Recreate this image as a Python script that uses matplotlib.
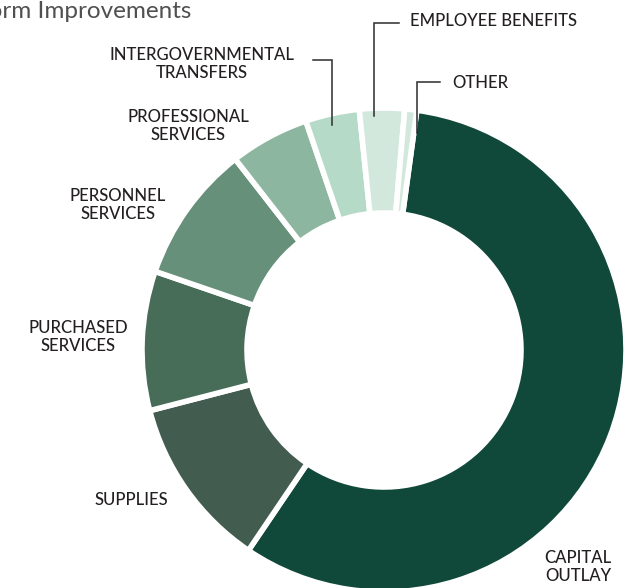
import matplotlib
matplotlib.use("Agg")
import matplotlib.pyplot as plt

# -------------------------------
# Données
# -------------------------------

categories = ["CAPITAL\nOUTLAY", "SUPPLIES", "PURCHASED\nSERVICES", "PERSONNEL\nSERVICES",
              "PROFESSIONAL\nSERVICES", "INTERGOVERNMENTAL\nTRANSFERS",
              "EMPLOYEE BENEFITS", "OTHER"]
shares = [57.3, 11.5, 9.3, 9.2, 5.3, 3.6, 3.0, 0.8]
colors = ["#10483A", "#435C50", "#476D59", "#66907A",
          "#8DB6A0", "#B5DBC8", "#D2E8DD", "#D2E8DD"]
title = "Platform Improvements"

W, H = 644, 588
CX, CY, R = 384, 350, 242   # centre et rayon du donut (pixels)


def px(x, y):
    """Pixels image -> coordonnées du repère du donut."""
    return (x - CX) / R, (CY - y) / R


# position des étiquettes (pixels) : x, y, alignement
label_pos = [
    (578, 567, "center"),
    (131, 500, "center"),
    (78, 337, "center"),
    (118, 205, "center"),
    (188, 126, "center"),
    (202, 64, "center"),
    (410, 21, "left"),
    (452, 83, "left"),
]
# traits de rappel : (x début, y), x du coude, y bas
leaders = {
    5: (313, 60, 332, 125),
    6: (399, 23, 374, 116),
    7: (440, 82, 417, 133),
}

plt.rcParams["font.family"] = ["Lato", "DejaVu Sans"]

fig = plt.figure(figsize=(W / 100, H / 100), dpi=100)
ax = fig.add_axes([(CX - R) / W, (H - CY - R) / H, 2 * R / W, 2 * R / H])

ax.pie(shares, colors=colors, startangle=82.2, counterclock=False, radius=1,
       wedgeprops=dict(width=1 - 137 / R, edgecolor="white", linewidth=4))

# pie() impose ses propres limites, on les remet après
ax.set_xlim(-1, 1)
ax.set_ylim(-1, 1)
ax.set_aspect("equal")
ax.axis("off")

for lab, (x, y, ha) in zip(categories, label_pos):
    tx, ty = px(x, y)
    ax.text(tx, ty, lab, ha=ha, va="center", fontsize=12, color="#231F20",
            linespacing=1.1, fontweight="medium")

for i, (x0, y0, xc, y1) in leaders.items():
    a = px(x0, y0)
    b = px(xc, y0)
    c = px(xc, y1)
    ax.plot([a[0], b[0], c[0]], [a[1], b[1], c[1]], color="#2b2b2b",
            lw=1.1, clip_on=False, solid_joinstyle="miter")

fig.text(191 / W, 1 - 12 / H, title, ha="right", va="center", fontsize=17.5,
         color="#505050", fontweight="normal")

fig.savefig("out.png", dpi=100)
